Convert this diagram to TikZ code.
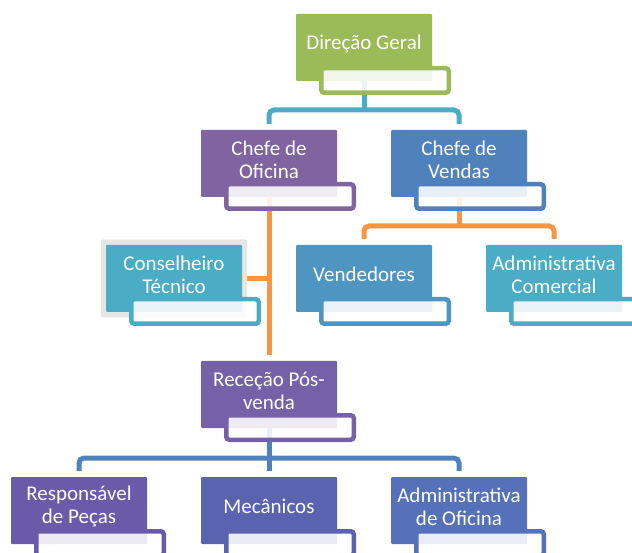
\documentclass[tikz,border=0pt]{standalone}
\usepackage{fontspec}
\setmainfont{Carlito}
\usetikzlibrary{backgrounds}

\definecolor{cGreen}{HTML}{9BBB59}
\definecolor{cPurple}{HTML}{8064A2}
\definecolor{cBlue}{HTML}{4F81BD}
\definecolor{cAqua}{HTML}{4BACC6}
\definecolor{cSteel}{HTML}{4F95C2}
\definecolor{cViolet}{HTML}{7461A7}
\definecolor{cIndigoA}{HTML}{6A5BAA}
\definecolor{cIndigoB}{HTML}{5A63B0}
\definecolor{cIndigoC}{HTML}{5471B9}
\definecolor{cOrange}{HTML}{F79646}
\definecolor{cSelect}{HTML}{E6E6E6}

\tikzset{
  orgbox/.style={fill=#1, minimum width=136pt, minimum height=67pt,
    inner sep=0pt, rounded corners=1pt},
  orgtab/.style={draw=#1, fill=white, fill opacity=0.88, line width=4.5pt,
    minimum width=127.5pt, minimum height=24.5pt, inner sep=0pt,
    rounded corners=3pt},
  orgtext/.style={text=white, align=center, inner sep=0pt,
    font=\fontsize{21pt}{23pt}\selectfont},
  link/.style={draw=#1, line width=5pt, rounded corners=5pt},
}

% box, caption and lower tab of one position in the chart
\newcommand\orgunit[4]{%
  \node[orgbox=#3] (#1) at (#2) {};
  \node[orgtext] (#1-t) at ([yshift=4pt]#1.center) {#4};
  \node[orgtab=#3] (#1-tab) at ([xshift=21pt,yshift=-33pt]#1.center) {};
}

\begin{document}
\begin{tikzpicture}[x=1pt,y=-1pt]
  \useasboundingbox (0,0) rectangle (632,553);
  \clip (0,0) rectangle (632,553);

  % selection frame around the advisor box
  \node[fill=cSelect, minimum width=146pt, minimum height=78pt,
        inner sep=0pt, rounded corners=2pt] (ct-sel) at (174,278.5) {};

  \orgunit{dg}{364,47.5}{cGreen}{Direção Geral}
  \orgunit{co}{269,163.5}{cPurple}{Chefe de\\Oficina}
  \orgunit{cv}{459,163.5}{cBlue}{Chefe de\\Vendas}
  \orgunit{ct}{174,278.5}{cAqua}{Conselheiro\\Técnico}
  \orgunit{ve}{364,278.5}{cSteel}{Vendedores}
  \orgunit{ac}{554,278.5}{cAqua}{Administrativa\\Comercial}
  \orgunit{rp}{269,394.5}{cViolet}{Receção Pós-\\venda}
  \orgunit{rs}{79,510.5}{cIndigoA}{Responsável\\de Peças}
  \orgunit{me}{269,510.5}{cIndigoB}{Mecânicos}
  \orgunit{ao}{459,510.5}{cIndigoC}{Administrativa\\de Oficina}

  \coordinate (bus1) at (0,110);
  \coordinate (bus2) at (0,226);
  \coordinate (bus3) at (0,458);

  \begin{scope}[on background layer]
    % Direção Geral to the two department heads
    \draw[link=cAqua] (dg.south) -- (dg.south |- bus1);
    \draw[link=cAqua, shorten <=6pt, shorten >=6pt]
      (co.north) -- (co.north |- bus1) -- (cv.north |- bus1) -- (cv.north);
    % Chefe de Vendas to sales staff
    \draw[link=cOrange] (cv.south) -- (cv.south |- bus2);
    \draw[link=cOrange, shorten <=6pt, shorten >=6pt]
      (ve.north) -- (ve.north |- bus2) -- (ac.north |- bus2) -- (ac.north);
    % Chefe de Oficina: advisor and after-sales reception
    \draw[link=cOrange, shorten >=6pt] (co.south) -- (rp.north);
    \draw[link=cOrange] (ct.east) -- (co.south |- ct.east);
    % Receção Pós-venda to workshop staff
    \draw[link=cBlue, shorten >=6pt] (rp.south) -- (me.north);
    \draw[link=cBlue, shorten <=6pt, shorten >=6pt]
      (rs.north) -- (rs.north |- bus3) -- (ao.north |- bus3) -- (ao.north);
  \end{scope}
\end{tikzpicture}
\end{document}
